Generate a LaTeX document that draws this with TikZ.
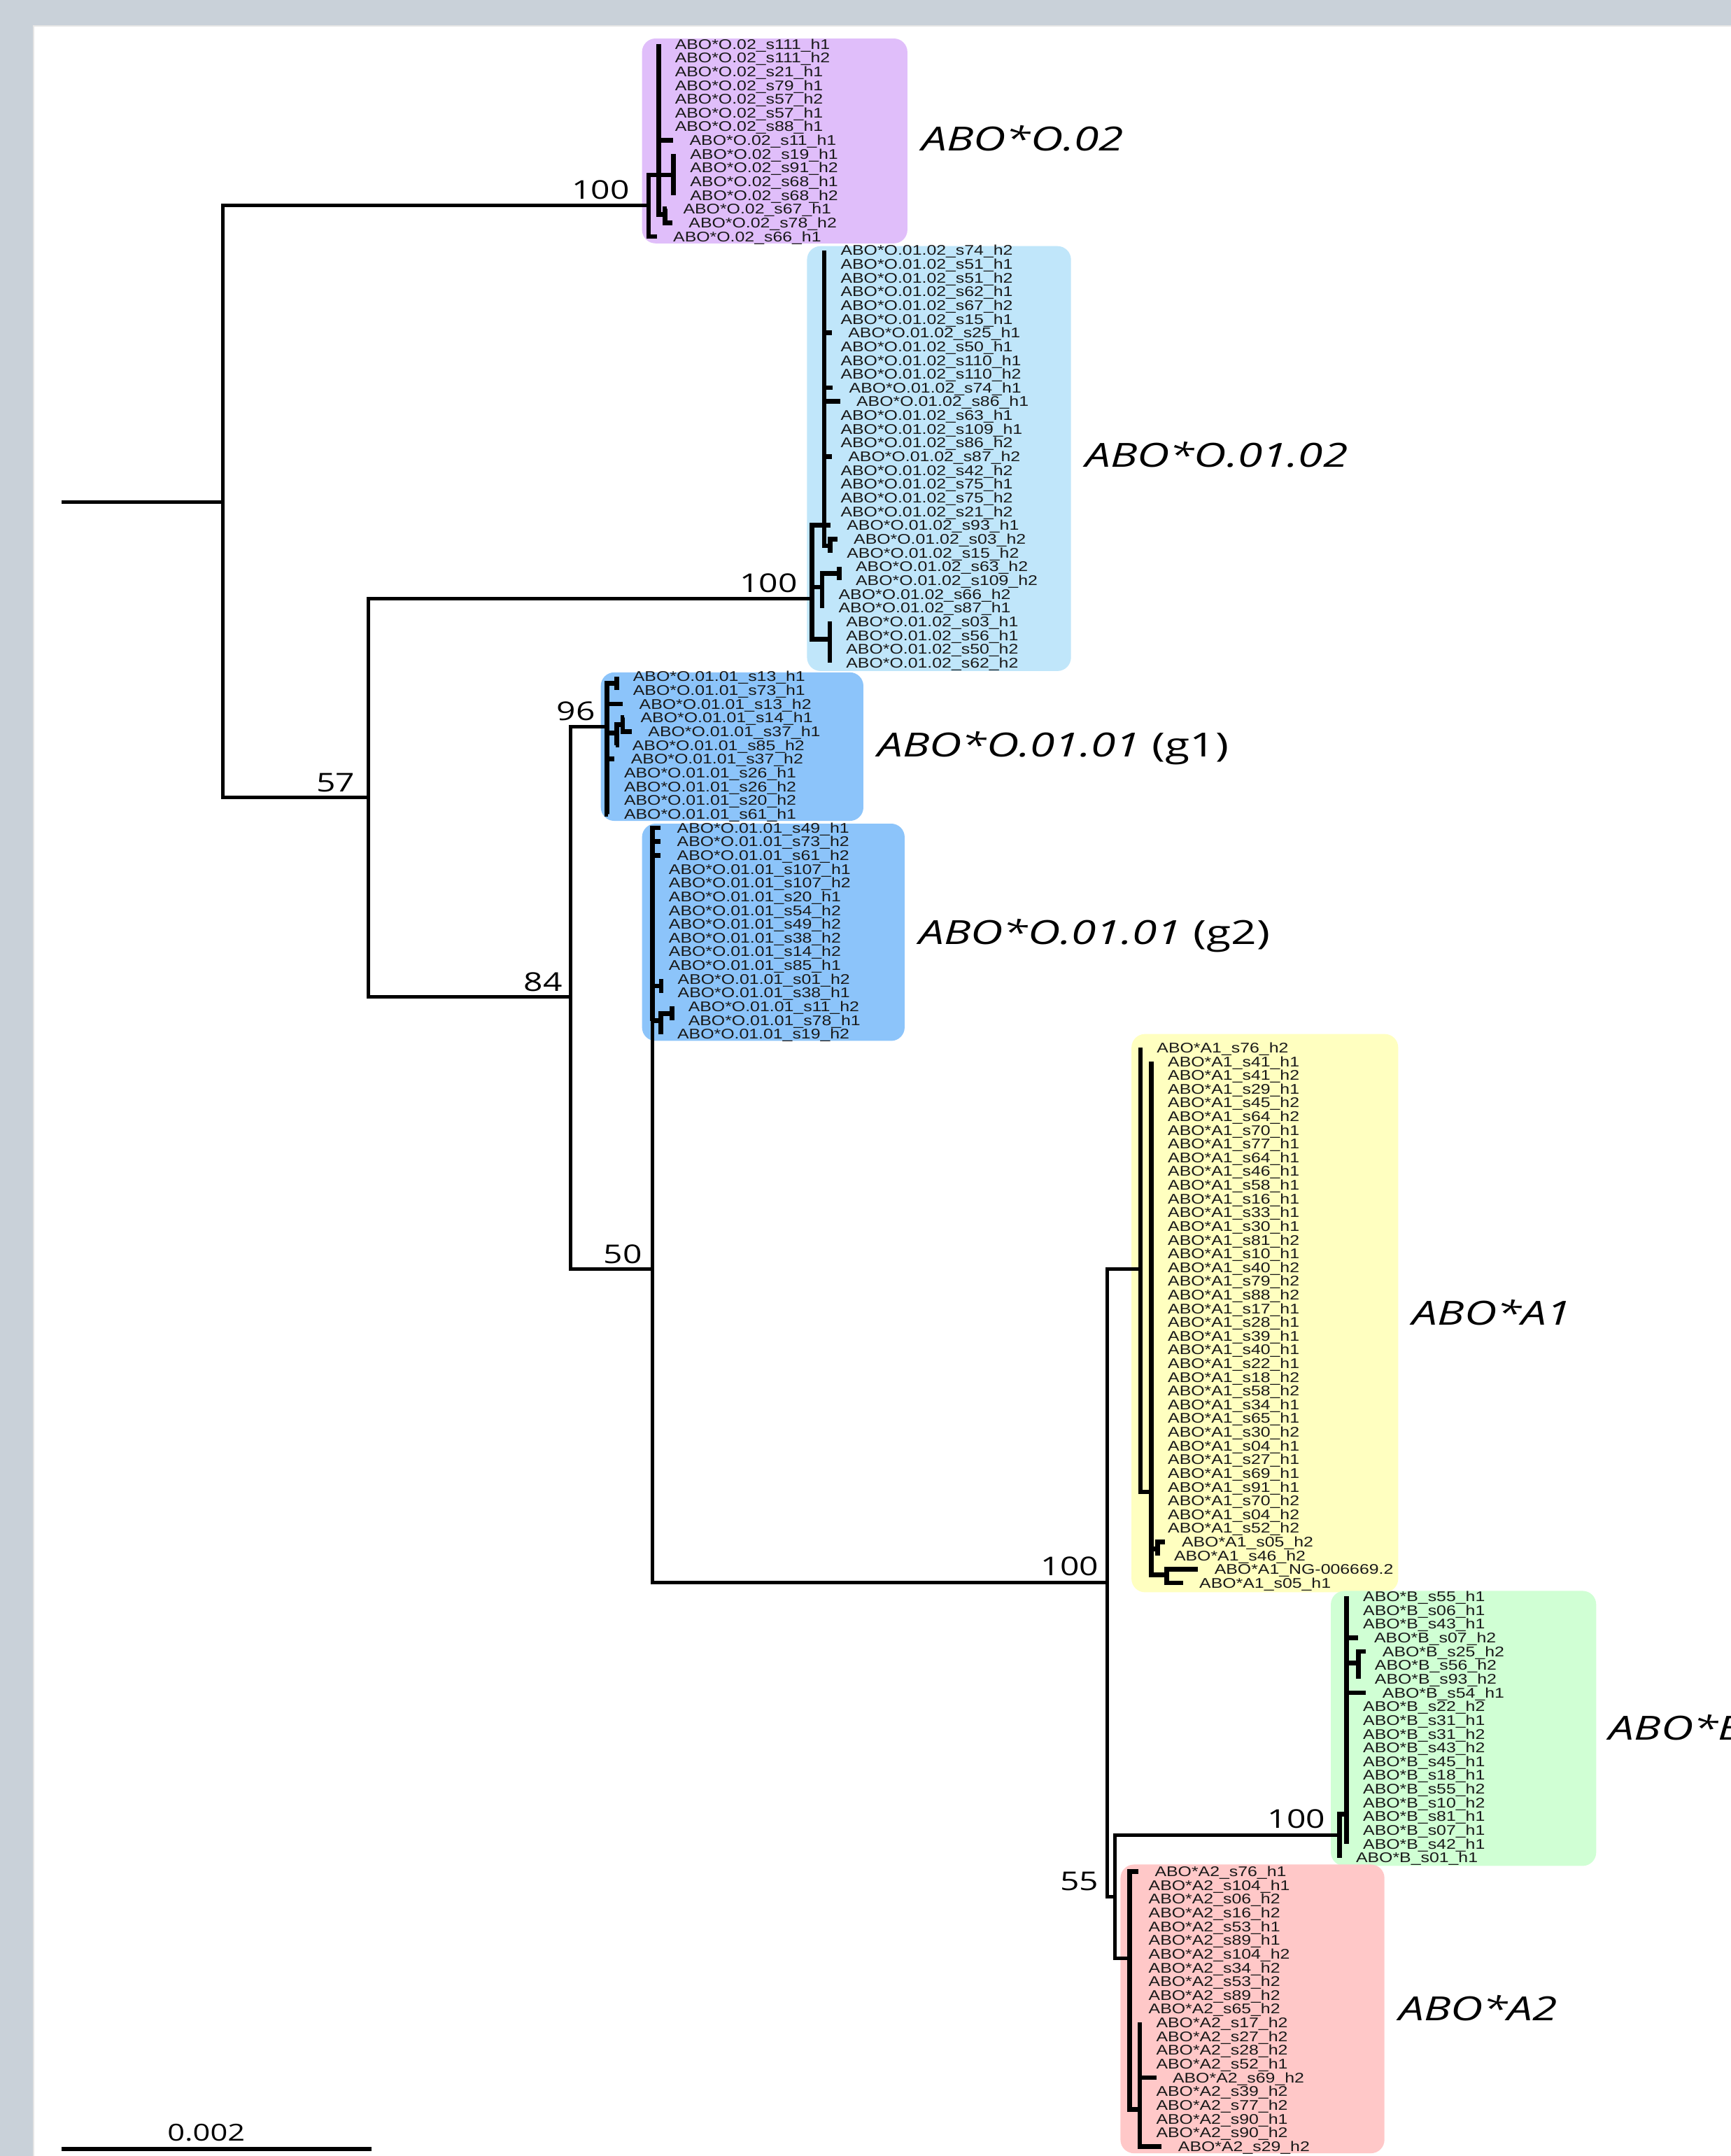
\documentclass[tikz,border=0pt]{standalone}
\usepackage{fontspec}
\newfontfamily\leaffont[FakeStretch=1.24]{Liberation Sans}
\newfontfamily\cladefont[FakeStretch=1.35]{Open Sans}
\newfontfamily\numfont[FakeStretch=1.3]{Open Sans}
\definecolor{bggray}{RGB}{201,209,217}
\definecolor{colOtwo}{RGB}{224,190,250}
\definecolor{colOonetwo}{RGB}{192,230,250}
\definecolor{colOoneone}{RGB}{140,196,250}
\definecolor{colAone}{RGB}{255,255,192}
\definecolor{colB}{RGB}{208,255,212}
\definecolor{colAtwo}{RGB}{255,200,200}
\begin{document}
\begin{tikzpicture}[x=0.019643cm,y=-0.019643cm,
  br/.style={line width=1.45pt,black},
  cb/.style={line width=1.9pt,black},
  leaf/.style={anchor=west,inner xsep=6.7pt,inner ysep=0pt,outer sep=0pt,text height=4.1pt,text depth=0pt,text=black!90,font=\leaffont\fontsize{5.7}{6}\selectfont},
  supp/.style={inner sep=0pt,font=\numfont\fontsize{10.5}{12}\selectfont},
  clade/.style={anchor=west,inner sep=0pt,text height=9.6pt,text depth=0pt,font=\cladefont\itshape\fontsize{13.5}{15}\selectfont},
  cladebox/.style={rounded corners=5.5pt}]
\useasboundingbox (0,0) rectangle (1259,1568);
\clip (0,0) rectangle (1259,1568);
% background and panel
\fill[bggray] (0,0) rectangle (1259,1568);
\fill[white] (24.5,18.8) rectangle (1262,1570);
\draw[line width=0.6pt,black!10] (24.5,1570) -- (24.5,18.8) -- (1262,18.8);
% clade boxes
\fill[colOtwo,cladebox] (467,28) rectangle (660,177);
\fill[colOonetwo,cladebox] (587,179) rectangle (779,488);
\fill[colOoneone,cladebox] (437,489) rectangle (628,597);
\fill[colOoneone,cladebox] (467,599) rectangle (658,757);
\fill[colAone,cladebox] (823,752) rectangle (1017,1158);
\fill[colB,cladebox] (968,1157) rectangle (1161,1357);
\fill[colAtwo,cladebox] (815,1356) rectangle (1007,1566);
% backbone coordinates
\coordinate (R0) at (45,365);
\coordinate (N1) at (162,365);
\coordinate (N2) at (268,580);
\coordinate (N3) at (415,725);
\coordinate (N4) at (474.5,923);
\coordinate (N5) at (805.5,1151);
\coordinate (N6) at (811,1379.6);
% clade internal coordinates
\coordinate (O02root) at (471.8,149.3);
\coordinate (O02b) at (479,127.3);
\coordinate (O02c) at (490,127.3);
\coordinate (O02d) at (483.6,156);
\coordinate (O12root) at (590.5,435.3);
\coordinate (O12V) at (599.5,382);
\coordinate (O12W) at (604,397);
\coordinate (O12X) at (598,427);
\coordinate (O12Y) at (610.5,417);
\coordinate (O12Z) at (603.5,465);
\coordinate (G1root) at (441.5,528.6);
\coordinate (G1a) at (448.5,497);
\coordinate (G1M) at (448.5,533);
\coordinate (G1M2) at (453,527);
\coordinate (G2) at (474.5,742.4);
\coordinate (G2a) at (481,717);
\coordinate (G2P) at (480.7,742.4);
\coordinate (G2Q) at (488.7,737);
\coordinate (A1root) at (829.5,923);
\coordinate (A1in) at (837.5,1085);
\coordinate (A1a) at (842,1126.6);
\coordinate (A1b) at (848.5,1145.4);
\coordinate (Broot) at (974.3,1334.7);
\coordinate (B1) at (979.5,1319.4);
\coordinate (B2) at (988,1209.3);
\coordinate (A2root) at (821.5,1424);
\coordinate (A2b) at (829,1534);
% backbone
\draw[br] (R0) -- (N1);
\draw[br] (N1) |- (O02root);
\draw[br] (N1) |- (N2);
\draw[br] (N2) |- (O12root);
\draw[br] (N2) |- (N3);
\draw[br] (N3) |- (G1root);
\draw[br] (N3) |- (N4);
\draw[br] (N4) |- (G2);
\draw[br] (N4) |- (N5);
\draw[br] (N5) |- (A1root);
\draw[br] (N5) |- (N6);
\draw[br] (N6) |- (Broot);
\draw[br] (N6) |- (A2root);
% internal clade connections
\draw[cb] (O02root) |- (O02b);
\draw[cb] (O02b) |- (O02c);
\draw[cb] (O02b) |- (O02d);
\draw[cb] (O12root) |- (O12V);
\draw[cb] (O12root) |- (O12X);
\draw[cb] (O12root) |- (O12Z);
\draw[cb] (O12V) |- (O12W);
\draw[cb] (O12X) |- (O12Y);
\draw[cb] (G1root) |- (G1a);
\draw[cb] (G1root) |- (G1M);
\draw[cb] (G1M) |- (G1M2);
\draw[cb] (G2) |- (G2a);
\draw[cb] (G2) |- (G2P);
\draw[cb] (G2P) |- (G2Q);
\draw[cb] (A1root) |- (A1in);
\draw[cb] (A1in) |- (A1a);
\draw[cb] (A1in) |- (A1b);
\draw[cb] (Broot) |- (B1);
\draw[cb] (B1) |- (B2);
\draw[cb] (A2root) |- (A2b);
% ABO*O.02 leaves
\foreach \ltip/\ltxt/\lpar [count=\i] in {
 479/s111\_h1/O02b, 479/s111\_h2/O02b, 479/s21\_h1/O02b, 479/s79\_h1/O02b,
 479/s57\_h2/O02b, 479/s57\_h1/O02b, 479/s88\_h1/O02b, 489.6/s11\_h1/O02b,
 490/s19\_h1/O02c, 490/s91\_h2/O02c, 490/s68\_h1/O02c, 490/s68\_h2/O02c,
 485/s67\_h1/O02d, 489/s78\_h2/O02d, 477.7/s66\_h1/O02root}{
 \node[leaf] (oa-\i) at (\ltip,{32+10*(\i-1)}) {ABO*O.02\_\ltxt};
 \draw[cb] (\lpar) |- (oa-\i.west);
}
% ABO*O.01.02 leaves
\foreach \ltip/\ltxt/\lpar [count=\i] in {
 599.5/s74\_h2/O12V, 599.5/s51\_h1/O12V, 599.5/s51\_h2/O12V, 599.5/s62\_h1/O12V,
 599.5/s67\_h2/O12V, 599.5/s15\_h1/O12V, 605/s25\_h1/O12V, 599.5/s50\_h1/O12V,
 599.5/s110\_h1/O12V, 599.5/s110\_h2/O12V, 605.7/s74\_h1/O12V, 611/s86\_h1/O12V,
 599.5/s63\_h1/O12V, 599.5/s109\_h1/O12V, 599.5/s86\_h2/O12V, 605/s87\_h2/O12V,
 599.5/s42\_h2/O12V, 599.5/s75\_h1/O12V, 599.5/s75\_h2/O12V, 599.5/s21\_h2/O12V,
 604/s93\_h1/O12V, 609/s03\_h2/O12W, 604/s15\_h2/O12W, 610.5/s63\_h2/O12Y,
 610.5/s109\_h2/O12Y, 598/s66\_h2/O12X, 598/s87\_h1/O12X, 603.5/s03\_h1/O12Z,
 603.5/s56\_h1/O12Z, 603.5/s50\_h2/O12Z, 603.5/s62\_h2/O12Z}{
 \node[leaf] (ob-\i) at (\ltip,{182+10*(\i-1)}) {ABO*O.01.02\_\ltxt};
 \draw[cb] (\lpar) |- (ob-\i.west);
}
% ABO*O.01.01 g1 leaves
\foreach \ltip/\ltxt/\lpar [count=\i] in {
 448.5/s13\_h1/G1a, 448.5/s73\_h1/G1a, 453/s13\_h2/G1root, 454/s14\_h1/G1M2,
 459.5/s37\_h1/G1M2, 448/s85\_h2/G1M, 447/s37\_h2/G1root, 442/s26\_h1/G1root,
 442/s26\_h2/G1root, 442/s20\_h2/G1root, 442/s61\_h1/G1root}{
 \node[leaf] (oc-\i) at (\ltip,{492+10*(\i-1)}) {ABO*O.01.01\_\ltxt};
 \draw[cb] (\lpar) |- (oc-\i.west);
}
% ABO*O.01.01 g2 leaves
\foreach \ltip/\ltxt/\lpar [count=\i] in {
 480.5/s49\_h1/G2, 480.5/s73\_h2/G2, 480.5/s61\_h2/G2, 474.5/s107\_h1/G2,
 474.5/s107\_h2/G2, 474.5/s20\_h1/G2, 474.5/s54\_h2/G2, 474.5/s49\_h2/G2,
 474.5/s38\_h2/G2, 474.5/s14\_h2/G2, 474.5/s85\_h1/G2, 481/s01\_h2/G2a,
 481/s38\_h1/G2a, 488.7/s11\_h2/G2Q, 488.7/s78\_h1/G2Q, 480.7/s19\_h2/G2P}{
 \node[leaf] (od-\i) at (\ltip,{602+10*(\i-1)}) {ABO*O.01.01\_\ltxt};
 \draw[cb] (\lpar) |- (od-\i.west);
}
% ABO*A1 leaves
\foreach \ltip/\ltxt/\lpar [count=\i] in {
 829.5/s76\_h2/A1root, 837.5/s41\_h1/A1in, 837.5/s41\_h2/A1in, 837.5/s29\_h1/A1in,
 837.5/s45\_h2/A1in, 837.5/s64\_h2/A1in, 837.5/s70\_h1/A1in, 837.5/s77\_h1/A1in,
 837.5/s64\_h1/A1in, 837.5/s46\_h1/A1in, 837.5/s58\_h1/A1in, 837.5/s16\_h1/A1in,
 837.5/s33\_h1/A1in, 837.5/s30\_h1/A1in, 837.5/s81\_h2/A1in, 837.5/s10\_h1/A1in,
 837.5/s40\_h2/A1in, 837.5/s79\_h2/A1in, 837.5/s88\_h2/A1in, 837.5/s17\_h1/A1in,
 837.5/s28\_h1/A1in, 837.5/s39\_h1/A1in, 837.5/s40\_h1/A1in, 837.5/s22\_h1/A1in,
 837.5/s18\_h2/A1in, 837.5/s58\_h2/A1in, 837.5/s34\_h1/A1in, 837.5/s65\_h1/A1in,
 837.5/s30\_h2/A1in, 837.5/s04\_h1/A1in, 837.5/s27\_h1/A1in, 837.5/s69\_h1/A1in,
 837.5/s91\_h1/A1in, 837.5/s70\_h2/A1in, 837.5/s04\_h2/A1in, 837.5/s52\_h2/A1in,
 847.6/s05\_h2/A1a, 842/s46\_h2/A1a, 871.4/NG-006669.2/A1b, 860.4/s05\_h1/A1b}{
 \node[leaf] (oe-\i) at (\ltip,{762+9.98*(\i-1)}) {ABO*A1\_\ltxt};
 \draw[cb] (\lpar) |- (oe-\i.west);
}
% ABO*B leaves
\foreach \ltip/\ltxt/\lpar [count=\i] in {
 979.5/s55\_h1/B1, 979.5/s06\_h1/B1, 979.5/s43\_h1/B1, 987.6/s07\_h2/B1,
 993.6/s25\_h2/B2, 988/s56\_h2/B2, 988/s93\_h2/B2, 993.6/s54\_h1/B1,
 979.5/s22\_h2/B1, 979.5/s31\_h1/B1, 979.5/s31\_h2/B1, 979.5/s43\_h2/B1,
 979.5/s45\_h1/B1, 979.5/s18\_h1/B1, 979.5/s55\_h2/B1, 979.5/s10\_h2/B1,
 979.5/s81\_h1/B1, 979.5/s07\_h1/B1, 979.5/s42\_h1/B1, 974.3/s01\_h1/Broot}{
 \node[leaf] (of-\i) at (\ltip,{1161+10*(\i-1)}) {ABO*B\_\ltxt};
 \draw[cb] (\lpar) |- (of-\i.west);
}
% ABO*A2 leaves
\foreach \ltip/\ltxt/\lpar [count=\i] in {
 828/s76\_h1/A2root, 823.5/s104\_h1/A2root, 823.5/s06\_h2/A2root, 823.5/s16\_h2/A2root,
 823.5/s53\_h1/A2root, 823.5/s89\_h1/A2root, 823.5/s104\_h2/A2root, 823.5/s34\_h2/A2root,
 823.5/s53\_h2/A2root, 823.5/s89\_h2/A2root, 823.5/s65\_h2/A2root, 829/s17\_h2/A2b,
 829/s27\_h2/A2b, 829/s28\_h2/A2b, 829/s52\_h1/A2b, 841/s69\_h2/A2b,
 829/s39\_h2/A2b, 829/s77\_h2/A2b, 829/s90\_h1/A2b, 829/s90\_h2/A2b, 845/s29\_h2/A2b}{
 \node[leaf] (og-\i) at (\ltip,{1361+10*(\i-1)}) {ABO*A2\_\ltxt};
 \draw[cb] (\lpar) |- (og-\i.west);
}
% support values
\node[supp] (sv1) at (437,138) {100};
\node[supp] (sv2) at (244,569) {57};
\node[supp] (sv3) at (559,424) {100};
\node[supp] (sv4) at (419,517) {96};
\node[supp] (sv5) at (395,714) {84};
\node[supp] (sv6) at (453,912) {50};
\node[supp] (sv7) at (778,1139) {100};
\node[supp] (sv8) at (943,1323) {100};
\node[supp] (sv9) at (785,1368) {55};
% clade labels
\node[clade] (cl1) at (670,101) {ABO*O.02};
\node[clade] (cl2) at (789,331) {ABO*O.01.02};
\node[clade] (cl3) at (638,542) {ABO*O.01.01 {\upshape (g1)}};
\node[clade] (cl4) at (668,678) {ABO*O.01.01 {\upshape (g2)}};
\node[clade] (cl5) at (1027,955) {ABO*A1};
\node[clade] (cl6) at (1170,1257) {ABO*B};
\node[clade] (cl7) at (1017,1461) {ABO*A2};
% scale bar
\coordinate (sbL) at (45,1563);
\coordinate (sbR) at (270,1563);
\draw[line width=1.6pt] (sbL) -- (sbR);
\node[supp,font=\numfont\fontsize{9.5}{11}\selectfont] (sbl) at (150,1551) {0.002};
\end{tikzpicture}
\end{document}
